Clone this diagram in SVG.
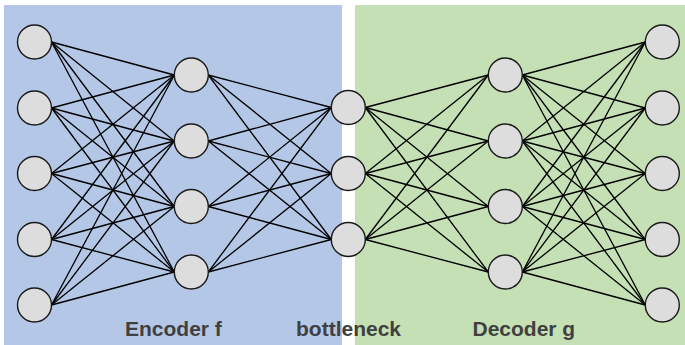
<svg xmlns="http://www.w3.org/2000/svg" width="685" height="345" viewBox="0 0 685 345">
<style>
.n{fill:#dddddd;stroke:#1a1a1a;stroke-width:1.4}
.e line{stroke:#000;stroke-width:1.3}
.t{font-family:"Liberation Sans",Arial,sans-serif;font-weight:bold;font-size:21px;fill:#404040}
</style>
<rect id="encoder-region" x="4" y="5" width="338" height="340" fill="#b4c7e7"/>
<rect id="decoder-region" x="355" y="5" width="330" height="340" fill="#c5e0b4"/>
<g class="e" id="connectors">
<!-- L1 -> L2 -->
<line x1="51.5" y1="42" x2="174.3" y2="75"/><line x1="51.5" y1="42" x2="174.3" y2="141"/><line x1="51.5" y1="42" x2="174.3" y2="206.5"/><line x1="51.5" y1="42" x2="174.3" y2="272"/>
<line x1="51.5" y1="108" x2="174.3" y2="75"/><line x1="51.5" y1="108" x2="174.3" y2="141"/><line x1="51.5" y1="108" x2="174.3" y2="206.5"/><line x1="51.5" y1="108" x2="174.3" y2="272"/>
<line x1="51.5" y1="173.5" x2="174.3" y2="75"/><line x1="51.5" y1="173.5" x2="174.3" y2="141"/><line x1="51.5" y1="173.5" x2="174.3" y2="206.5"/><line x1="51.5" y1="173.5" x2="174.3" y2="272"/>
<line x1="51.5" y1="239.5" x2="174.3" y2="75"/><line x1="51.5" y1="239.5" x2="174.3" y2="141"/><line x1="51.5" y1="239.5" x2="174.3" y2="206.5"/><line x1="51.5" y1="239.5" x2="174.3" y2="272"/>
<line x1="51.5" y1="305" x2="174.3" y2="75"/><line x1="51.5" y1="305" x2="174.3" y2="141"/><line x1="51.5" y1="305" x2="174.3" y2="206.5"/><line x1="51.5" y1="305" x2="174.3" y2="272"/>
<!-- L2 -> L3 -->
<line x1="208.3" y1="75" x2="331.3" y2="107.5"/><line x1="208.3" y1="75" x2="331.3" y2="173.5"/><line x1="208.3" y1="75" x2="331.3" y2="239.5"/>
<line x1="208.3" y1="141" x2="331.3" y2="107.5"/><line x1="208.3" y1="141" x2="331.3" y2="173.5"/><line x1="208.3" y1="141" x2="331.3" y2="239.5"/>
<line x1="208.3" y1="206.5" x2="331.3" y2="107.5"/><line x1="208.3" y1="206.5" x2="331.3" y2="173.5"/><line x1="208.3" y1="206.5" x2="331.3" y2="239.5"/>
<line x1="208.3" y1="272" x2="331.3" y2="107.5"/><line x1="208.3" y1="272" x2="331.3" y2="173.5"/><line x1="208.3" y1="272" x2="331.3" y2="239.5"/>
<!-- L3 -> L4 -->
<line x1="365.3" y1="107.5" x2="488.3" y2="75"/><line x1="365.3" y1="107.5" x2="488.3" y2="141"/><line x1="365.3" y1="107.5" x2="488.3" y2="206.5"/><line x1="365.3" y1="107.5" x2="488.3" y2="272"/>
<line x1="365.3" y1="173.5" x2="488.3" y2="75"/><line x1="365.3" y1="173.5" x2="488.3" y2="141"/><line x1="365.3" y1="173.5" x2="488.3" y2="206.5"/><line x1="365.3" y1="173.5" x2="488.3" y2="272"/>
<line x1="365.3" y1="239.5" x2="488.3" y2="75"/><line x1="365.3" y1="239.5" x2="488.3" y2="141"/><line x1="365.3" y1="239.5" x2="488.3" y2="206.5"/><line x1="365.3" y1="239.5" x2="488.3" y2="272"/>
<!-- L4 -> L5 -->
<line x1="522.3" y1="75" x2="645.3" y2="42"/><line x1="522.3" y1="75" x2="645.3" y2="108"/><line x1="522.3" y1="75" x2="645.3" y2="173.5"/><line x1="522.3" y1="75" x2="645.3" y2="239.5"/><line x1="522.3" y1="75" x2="645.3" y2="305"/>
<line x1="522.3" y1="141" x2="645.3" y2="42"/><line x1="522.3" y1="141" x2="645.3" y2="108"/><line x1="522.3" y1="141" x2="645.3" y2="173.5"/><line x1="522.3" y1="141" x2="645.3" y2="239.5"/><line x1="522.3" y1="141" x2="645.3" y2="305"/>
<line x1="522.3" y1="206.5" x2="645.3" y2="42"/><line x1="522.3" y1="206.5" x2="645.3" y2="108"/><line x1="522.3" y1="206.5" x2="645.3" y2="173.5"/><line x1="522.3" y1="206.5" x2="645.3" y2="239.5"/><line x1="522.3" y1="206.5" x2="645.3" y2="305"/>
<line x1="522.3" y1="272" x2="645.3" y2="42"/><line x1="522.3" y1="272" x2="645.3" y2="108"/><line x1="522.3" y1="272" x2="645.3" y2="173.5"/><line x1="522.3" y1="272" x2="645.3" y2="239.5"/><line x1="522.3" y1="272" x2="645.3" y2="305"/>
</g>
<g id="in1"><circle class="n" cx="34.5" cy="42" r="17"/></g>
<g id="in2"><circle class="n" cx="34.5" cy="108" r="17"/></g>
<g id="in3"><circle class="n" cx="34.5" cy="173.5" r="17"/></g>
<g id="in4"><circle class="n" cx="34.5" cy="239.5" r="17"/></g>
<g id="in5"><circle class="n" cx="34.5" cy="305" r="17"/></g>
<g id="enc1"><circle class="n" cx="191.3" cy="75" r="17"/></g>
<g id="enc2"><circle class="n" cx="191.3" cy="141" r="17"/></g>
<g id="enc3"><circle class="n" cx="191.3" cy="206.5" r="17"/></g>
<g id="enc4"><circle class="n" cx="191.3" cy="272" r="17"/></g>
<g id="bn1"><circle class="n" cx="348.3" cy="107.5" r="17"/></g>
<g id="bn2"><circle class="n" cx="348.3" cy="173.5" r="17"/></g>
<g id="bn3"><circle class="n" cx="348.3" cy="239.5" r="17"/></g>
<g id="dec1"><circle class="n" cx="505.3" cy="75" r="17"/></g>
<g id="dec2"><circle class="n" cx="505.3" cy="141" r="17"/></g>
<g id="dec3"><circle class="n" cx="505.3" cy="206.5" r="17"/></g>
<g id="dec4"><circle class="n" cx="505.3" cy="272" r="17"/></g>
<g id="out1"><circle class="n" cx="662.3" cy="42" r="17"/></g>
<g id="out2"><circle class="n" cx="662.3" cy="108" r="17"/></g>
<g id="out3"><circle class="n" cx="662.3" cy="173.5" r="17"/></g>
<g id="out4"><circle class="n" cx="662.3" cy="239.5" r="17"/></g>
<g id="out5"><circle class="n" cx="662.3" cy="305" r="17"/></g>
<g id="labels">
<text class="t" x="125" y="336">Encoder f</text>
<text class="t" x="296" y="336">bottleneck</text>
<text class="t" x="472.5" y="335.5">Decoder g</text>
</g>
</svg>
